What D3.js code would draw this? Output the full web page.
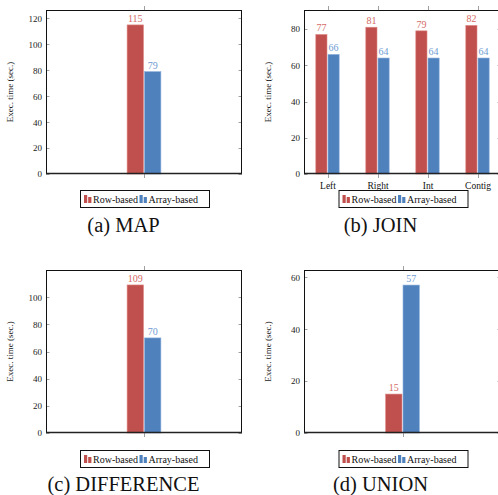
<!DOCTYPE html>
<html><head><meta charset="utf-8">
<script src="https://cdn.jsdelivr.net/npm/d3@7"></script>
<style>body{margin:0;background:#fff}svg{display:block}</style>
</head><body><svg id="c" width="498" height="495" font-family="'Liberation Serif', 'DejaVu Serif', serif"></svg>
<script>
// ---- data ----
const seriesNames = ["Row-based", "Array-based"];
const mapCats = [""];
const mapRow = [115];
const mapArray = [79];
const joinCats = ["Left", "Right", "Int", "Contig"];
const joinRow = [77, 81, 79, 82];
const joinArray = [66, 64, 64, 64];
const diffCats = [""];
const diffRow = [109];
const diffArray = [70];
const unionCats = [""];
const unionRow = [15];
const unionArray = [57];
const yTicksMap = [0, 20, 40, 60, 80, 100, 120];
const yTicksJoin = [0, 20, 40, 60, 80];
const yTicksDiff = [0, 20, 40, 60, 80, 100];
const yTicksUnion = [0, 20, 40, 60];
const captions = ["(a) MAP", "(b) JOIN", "(c) DIFFERENCE", "(d) UNION"];
const yLabel = "Exec. time (sec.)";

const FONT = "'Liberation Serif', 'DejaVu Serif', serif";
const colors = ["#c0504d", "#4f81bd"];
const labelColors = ["#d46a66", "#6f9bd3"];

const svg = d3.select("#c");

const panels = [
  {cats: mapCats, row: mapRow, arr: mapArray, ticks: yTicksMap, ymax: 126.5, box: [46, 242, 10, 174], pad: 0.5, bw: 16.4, cap: captions[0], capX: 123.5, capY: 232, legY: 190},
  {cats: joinCats, row: joinRow, arr: joinArray, ticks: yTicksJoin, ymax: 90.5, box: [304, 501, 10, 174], pad: 0.47, bw: 11.2, cap: captions[1], capX: 380.5, capY: 232, legY: 190},
  {cats: diffCats, row: diffRow, arr: diffArray, ticks: yTicksDiff, ymax: 120, box: [46, 242, 270, 433], pad: 0.5, bw: 16.4, cap: captions[2], capX: 123.5, capY: 490.5, legY: 450},
  {cats: unionCats, row: unionRow, arr: unionArray, ticks: yTicksUnion, ymax: 62.8, box: [304, 501, 270, 433], pad: 0.5, bw: 16.4, cap: captions[3], capX: 380.5, capY: 490.5, legY: 450}
];

panels.forEach(p => {
  const [L, R, T, B] = p.box;
  const g = svg.append("g");
  const x = d3.scalePoint().domain(p.cats).range([L, R]).padding(p.pad);
  const y = d3.scaleLinear().domain([0, p.ymax]).range([B, T]);

  p.ticks.forEach(t => {
    const yy = Math.round(y(t)) + 0.5;
    g.append("line").attr("x1", L).attr("x2", L + 3.5).attr("y1", yy).attr("y2", yy).attr("stroke", "#888").attr("stroke-width", 0.8);
    g.append("line").attr("x1", R - 3.5).attr("x2", R).attr("y1", yy).attr("y2", yy).attr("stroke", "#888").attr("stroke-width", 0.8);
  });
  const ya = g.append("g").attr("transform", `translate(${L},0)`)
    .call(d3.axisLeft(y).tickValues(p.ticks).tickSize(0).tickPadding(4).tickFormat(d3.format("d")));
  ya.attr("font-family", FONT).attr("font-size", 9);
  ya.select(".domain").remove();
  ya.selectAll("text").attr("fill", "#222");

  p.cats.forEach(c => {
    const xx = Math.round(x(c)) + 0.5;
    g.append("line").attr("x1", xx).attr("x2", xx).attr("y1", T - 4).attr("y2", T).attr("stroke", "#888").attr("stroke-width", 0.8);
    g.append("line").attr("x1", xx).attr("x2", xx).attr("y1", B).attr("y2", B + 4).attr("stroke", "#888").attr("stroke-width", 0.8);
  });
  const xa = g.append("g").attr("transform", `translate(0,${B})`)
    .call(d3.axisBottom(x).tickSize(0).tickPadding(8));
  xa.attr("font-family", FONT).attr("font-size", 9.5);
  xa.select(".domain").remove();
  xa.selectAll("text").attr("fill", "#111");

  const vals = [p.row, p.arr];
  vals.forEach((arr, s) => {
    p.cats.forEach((c, i) => {
      const cx = x(c);
      const x0 = s === 0 ? cx - p.bw - 0.5 : cx + 0.5;
      g.append("rect").attr("x", x0).attr("y", y(arr[i])).attr("width", p.bw).attr("height", y(0) - y(arr[i]))
        .attr("fill", colors[s]).attr("stroke", s === 0 ? "#e08a87" : "#8fb2de").attr("stroke-width", 0.6);
      g.append("text").attr("x", x0 + p.bw / 2).attr("y", y(arr[i]) - 3).attr("text-anchor", "middle")
        .attr("font-family", FONT).attr("font-size", 10).attr("fill", labelColors[s]).text(arr[i]);
    });
  });

  g.append("rect").attr("x", L + 0.5).attr("y", T + 0.5).attr("width", R - L - 1).attr("height", B - T - 1)
    .attr("fill", "none").attr("stroke", "#111").attr("stroke-width", 1);
  g.append("line").attr("x1", L).attr("x2", R).attr("y1", B - 0.5).attr("y2", B - 0.5).attr("stroke", "#222").attr("stroke-width", 1.6);

  g.append("text").attr("transform", `translate(${L - 33},${(T + B) / 2}) rotate(-90)`).attr("text-anchor", "middle")
    .attr("font-family", FONT).attr("font-size", 9).attr("fill", "#222").text(yLabel);

  const lw = 129, lh = 17, lx = (L + R) / 2 - lw / 2 + 0.5, ly = p.legY;
  const lg = g.append("g");
  lg.append("rect").attr("x", lx + 0.5).attr("y", ly + 0.5).attr("width", lw).attr("height", lh)
    .attr("fill", "#fff").attr("stroke", "#111").attr("stroke-width", 1);
  let cx = lx + 4;
  seriesNames.forEach((n, s) => {
    lg.append("rect").attr("x", cx).attr("y", ly + 5).attr("width", 3.2).attr("height", 8).attr("fill", colors[s]);
    lg.append("rect").attr("x", cx + 4.2).attr("y", ly + 7).attr("width", 3.2).attr("height", 6).attr("fill", colors[s]);
    const t = lg.append("text").attr("x", cx + 9).attr("y", ly + 12.5).attr("font-family", FONT).attr("font-size", 10).attr("fill", "#111").text(n);
    cx += 9 + t.node().getComputedTextLength() + 1.5;
  });

  g.append("text").attr("x", p.capX).attr("y", p.capY).attr("text-anchor", "middle")
    .attr("font-family", FONT).attr("font-size", 20.5).attr("fill", "#111").text(p.cap);
});
</script></body></html>
